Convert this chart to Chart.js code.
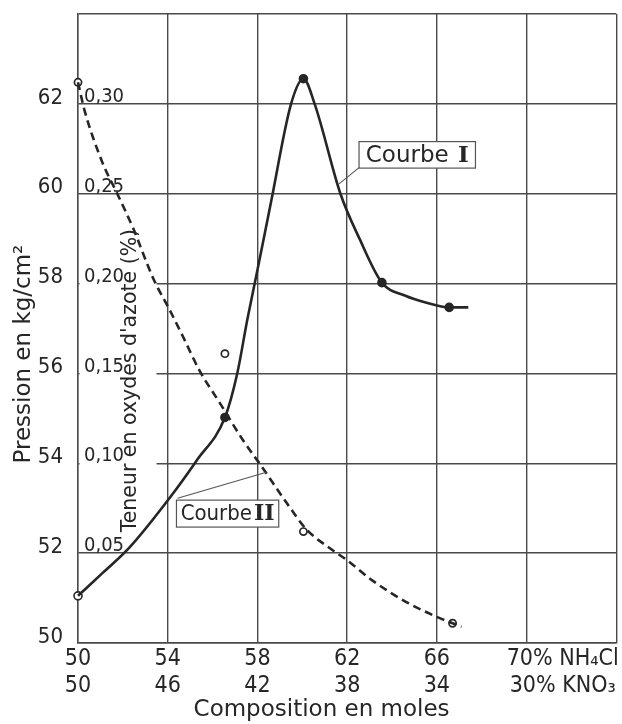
<!DOCTYPE html>
<html><head><meta charset="utf-8">
<script src="https://cdn.jsdelivr.net/npm/chart.js@4.4.1/dist/chart.umd.min.js"></script>
<style>html,body{margin:0;padding:0;background:#fff}canvas{display:block}</style>
</head><body>
<canvas id="c" width="622" height="724"></canvas>
<script>
// ---- Data ----
// Courbe I : pression (kg/cm²) along the solid curve
const courbeI_x = [50, 51.1, 52.3, 54.1, 55.3, 56.55, 57.1, 57.55, 58.0, 58.6, 59.5, 60.05, 60.55, 61.7, 62.55, 63.55, 64.6, 65.5, 66.55, 67.4];
const courbeI_p = [51.05, 51.56, 52.13, 53.24, 54.07, 55.02, 56.0, 57.2, 58.3, 59.8, 62.0, 62.56, 62.0, 60.0, 59.0, 58.02, 57.73, 57.58, 57.47, 57.47];
// Courbe I : measured points
const courbeI_ptX = [50, 56.55, 60.05, 63.55, 66.55];
const courbeI_ptP = [51.05, 55.02, 62.56, 58.02, 57.47];
// Courbe II : teneur en oxydes d'azote (%) along the dashed curve
const courbeII_x = [50, 50.3, 51.1, 51.75, 52.45, 53.35, 54.1, 54.7, 55.4, 56.3, 57.35, 58.2, 59.3, 60.2, 61.2, 62.0, 63.1, 64.75, 66.1, 66.7, 67.1];
const courbeII_n = [0.312, 0.296, 0.267, 0.25, 0.231, 0.203, 0.185, 0.17, 0.152, 0.134, 0.113, 0.098, 0.078, 0.063, 0.053, 0.046, 0.035, 0.022, 0.014, 0.011, 0.009];
// Courbe II : measured points
const courbeII_ptX = [50, 56.55, 60.05, 66.7];
const courbeII_ptN = [0.312, 0.161, 0.062, 0.011];
// Tick labels
const xLabelsNH4Cl = ['50', '54', '58', '62', '66', '70% NH₄Cl'];
const xLabelsKNO3  = ['50', '46', '42', '38', '34', '30% KNO₃'];
const pressionLabels = ['50', '52', '54', '56', '58', '60', '62'];
const teneurLabels = ['0,05', '0,10', '0,15', '0,20', '0,25', '0,30'];

// ---- Styling / layout ----
const INK = '#262626';
const GRID = '#4a4a4a';
const tickFont = 'DejaVu Sans Condensed';
const annot = {
  box1: {x0: 62.53, x1: 67.72, y0: 61.16, y1: 60.57, word: 'Courbe ', num: 'I', font: '23px "DejaVu Sans"'},
  lead1: {x0: 62.53, y0: 60.58, x1: 61.64, y1: 60.22},
  box2: {x0: 54.39, x1: 58.95, y0: 53.18, y1: 52.58, word: 'Courbe', num: 'II', font: '22px "DejaVu Sans Condensed"'},
  lead2: {x0: 54.44, y0: 53.22, x1: 58.4, y1: 53.8},
  title2: {x: 52.36, y: 55.84, text: "Teneur en oxydes d'azote (%)"},
  backdrop: {x0: 50.07, x1: 53.5, y0: 59.25, y1: 52.4}
};

const annotPlugin = {
  id: 'annot',
  beforeDatasetsDraw(chart) {
    const {ctx, scales: {x, y}} = chart;
    ctx.save();
    const b = annot.backdrop;
    const l = x.getPixelForValue(b.x0), r = x.getPixelForValue(b.x1);
    const t = y.getPixelForValue(b.y0), bt = y.getPixelForValue(b.y1);
    ctx.fillStyle = '#fff';
    ctx.fillRect(l, t, r - l, bt - t);
    const tt = annot.title2;
    ctx.translate(x.getPixelForValue(tt.x), y.getPixelForValue(tt.y));
    ctx.rotate(-Math.PI / 2);
    ctx.font = '20.5px "DejaVu Sans"';
    ctx.fillStyle = INK;
    ctx.textAlign = 'center';
    ctx.textBaseline = 'middle';
    ctx.fillText(tt.text, 0, 0);
    ctx.restore();
  },
  afterDatasetsDraw(chart) {
    const {ctx, scales: {x, y}} = chart;
    ctx.save();
    const line = (d) => {
      ctx.beginPath();
      ctx.moveTo(x.getPixelForValue(d.x0), y.getPixelForValue(d.y0));
      ctx.lineTo(x.getPixelForValue(d.x1), y.getPixelForValue(d.y1));
      ctx.strokeStyle = '#555'; ctx.lineWidth = 1.1; ctx.stroke();
    };
    const box = (d) => {
      const l = x.getPixelForValue(d.x0), r = x.getPixelForValue(d.x1);
      const t = y.getPixelForValue(d.y0), b = y.getPixelForValue(d.y1);
      ctx.fillStyle = '#fff';
      ctx.fillRect(l, t, r - l, b - t);
      ctx.strokeStyle = '#555'; ctx.lineWidth = 1.2;
      ctx.strokeRect(l, t, r - l, b - t);
      const boldFont = 'bold ' + d.font.replace(/"[^"]+"/, '"DejaVu Serif"');
      ctx.textAlign = 'left'; ctx.textBaseline = 'middle';
      ctx.fillStyle = INK;
      ctx.font = d.font;
      const w = ctx.measureText(d.word).width;
      ctx.font = boldFont;
      const wn = ctx.measureText(d.num).width;
      const sx = (l + r) / 2 - (w + wn + 2) / 2;
      const cy = (t + b) / 2 + 1;
      ctx.font = d.font;
      ctx.fillText(d.word, sx, cy);
      ctx.font = boldFont;
      ctx.fillText(d.num, sx + w + 2, cy);
    };
    line(annot.lead1); line(annot.lead2);
    box(annot.box1); box(annot.box2);
    ctx.restore();
  }
};

const pts = (xs, ys) => xs.map((v, i) => ({x: v, y: ys[i]}));

new Chart(document.getElementById('c'), {
  type: 'line',
  data: {
    datasets: [
      {label: 'Courbe I', data: pts(courbeI_x, courbeI_p), yAxisID: 'y',
       borderColor: INK, borderWidth: 2.6, pointRadius: 0, cubicInterpolationMode: 'monotone', fill: false, clip: 6},
      {label: 'Courbe I (mesures)', data: pts(courbeI_ptX, courbeI_ptP), yAxisID: 'y', showLine: false,
       pointRadius: 4, pointBorderWidth: 1.6, pointBorderColor: INK, clip: false,
       pointBackgroundColor: (c) => c.dataIndex === 0 ? '#fff' : INK},
      {label: 'Courbe II', data: pts(courbeII_x, courbeII_n), yAxisID: 'y2',
       borderColor: INK, borderWidth: 2.6, borderDash: [8, 5], pointRadius: 0, cubicInterpolationMode: 'monotone', fill: false, clip: 6},
      {label: 'Courbe II (mesures)', data: pts(courbeII_ptX, courbeII_ptN), yAxisID: 'y2', showLine: false,
       pointRadius: 3.6, pointBorderWidth: 1.7, pointBorderColor: INK, pointBackgroundColor: '#fff', clip: false}
    ]
  },
  options: {
    responsive: false,
    animation: false,
    layout: {padding: {top: 14, right: 4, bottom: 0, left: 0}},
    plugins: {legend: {display: false}, tooltip: {enabled: false}},
    scales: {
      x: {
        type: 'linear', min: 50, max: 74,
        grid: {color: GRID, lineWidth: 1.4, drawTicks: false},
        border: {color: GRID, width: 1.4},
        ticks: {
          stepSize: 4, padding: 3, color: INK, autoSkip: false, maxRotation: 0,
          font: {family: tickFont, size: 23, lineHeight: 1.15},
          callback: (v) => {
            const i = Math.round((v - 50) / 4);
            if (i >= xLabelsNH4Cl.length) return '';
            const pad = i === xLabelsNH4Cl.length - 1 ? ' '.repeat(11) : '';
            return [pad + xLabelsNH4Cl[i], pad + xLabelsKNO3[i]];
          }
        },
        title: {display: true, text: 'Composition en moles' + ' '.repeat(7), color: INK,
               font: {family: 'DejaVu Sans', size: 23, lineHeight: 1.2}, padding: {top: 0, bottom: 0}},
        afterFit: (s) => { s.height = 81; s.paddingLeft = 0; s.paddingRight = 0; }
      },
      y: {
        type: 'linear', position: 'left', weight: 1, min: 50, max: 64,
        grid: {color: GRID, lineWidth: 1.4, drawTicks: false},
        border: {color: GRID, width: 1.4},
        ticks: {
          stepSize: 2, padding: 15, labelOffset: -6, color: INK,
          font: {family: tickFont, size: 22},
          callback: (v) => { const i = Math.round((v - 50) / 2); return i < pressionLabels.length ? pressionLabels[i] : ''; }
        },
        title: {display: true, text: 'Pression en kg/cm²' + ' '.repeat(7), color: INK,
                font: {family: 'DejaVu Sans', size: 23, lineHeight: 1.2}, padding: {top: 10, bottom: 0}},
        afterFit: (s) => { s.width = 78; s.paddingTop = 0; s.paddingBottom = 0; }
      },
      y2: {
        type: 'linear', position: 'left', weight: 0, min: 0, max: 0.35,
        grid: {display: false, drawTicks: false},
        border: {display: false},
        ticks: {
          stepSize: 0.05, mirror: true, padding: 6, labelOffset: -7, color: INK, z: 1,
          font: {family: 'DejaVu Sans Condensed', size: 20},
          callback: (v) => { const i = Math.round(v / 0.05) - 1; return (i >= 0 && i < teneurLabels.length) ? teneurLabels[i] : ''; }
        },
        afterFit: (s) => { s.width = 0; s.paddingTop = 0; s.paddingBottom = 0; }
      }
    }
  },
  plugins: [annotPlugin]
});
</script>
</body></html>
